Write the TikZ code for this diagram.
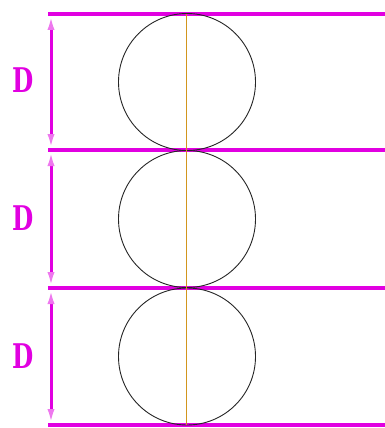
\documentclass[tikz,border=0pt]{standalone}
\usepackage{fontspec}
\newfontfamily\dimfont{DejaVu Serif}
\usetikzlibrary{arrows.meta}
\definecolor{mag}{RGB}{225,0,225}
\definecolor{magl}{RGB}{238,120,238}
\definecolor{axis}{RGB}{210,150,30}
\tikzset{
  hline/.style={draw=mag, line width=3.5pt},
  dimline/.style={draw=mag, line width=3pt, {Latex[length=16pt,width=7pt,color=magl]}-{Latex[length=16pt,width=7pt,color=magl]}},
  ball/.style={draw=black!85, line width=0.9pt},
  axisline/.style={draw=axis, line width=1.1pt},
  dimlabel/.style={text=mag, font=\dimfont\bfseries\fontsize{34}{34}\selectfont, inner sep=0pt, xscale=0.72}
}
\begin{document}
\begin{tikzpicture}[x=1pt,y=-1pt]
\useasboundingbox (0,0) rectangle (385,428);
\coordinate (l0) at (48,14);  \coordinate (r0) at (385,14);
\coordinate (l1) at (48,150); \coordinate (r1) at (385,150);
\coordinate (l2) at (48,288); \coordinate (r2) at (385,288);
\coordinate (l3) at (48,425); \coordinate (r3) at (385,425);
\coordinate (d0) at (51,14); \coordinate (d1) at (51,150);
\coordinate (d2) at (51,288); \coordinate (d3) at (51,425);
\draw[hline] (l0) -- (r0);
\draw[hline] (l1) -- (r1);
\draw[hline] (l2) -- (r2);
\draw[hline] (l3) -- (r3);
\draw[dimline] (d0) -- (d1);
\draw[dimline] (d1) -- (d2);
\draw[dimline] (d2) -- (d3);
\node[ball, circle, minimum size=137pt, inner sep=0pt] (c1) at (187,82) {};
\node[ball, circle, minimum size=137pt, inner sep=0pt] (c2) at (187,219) {};
\node[ball, circle, minimum size=137pt, inner sep=0pt] (c3) at (187,356.5) {};
\coordinate (a0) at (186.5,14); \coordinate (a1) at (186.5,425);
\draw[axisline] (a0) -- (a1);
\node[dimlabel] (t1) at (23,80) {D};
\node[dimlabel] (t2) at (23,218) {D};
\node[dimlabel] (t3) at (23,356) {D};
\end{tikzpicture}
\end{document}
